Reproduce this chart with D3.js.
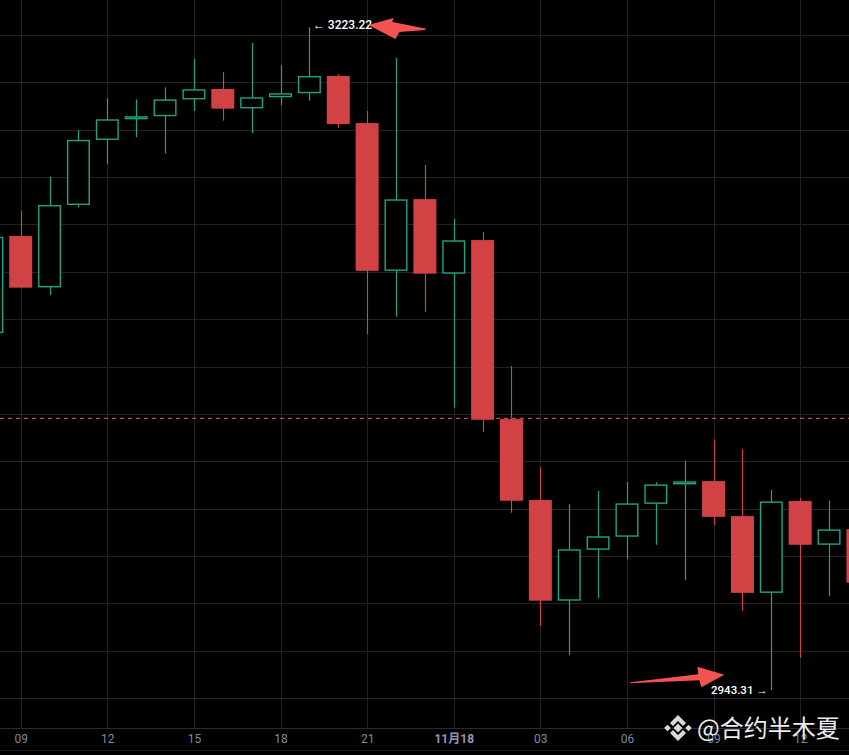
<!DOCTYPE html>
<html>
<head>
<meta charset="utf-8">
<script src="https://cdn.jsdelivr.net/npm/d3@7/dist/d3.min.js"></script>
<style>
  html, body { margin: 0; padding: 0; background: #000; }
  svg { display: block; }
</style>
</head>
<body>
<svg id="chart" width="849" height="755"></svg>
<script>
// ---- data ----
const times = [
  "2024-11-17 08:00","2024-11-17 09:00","2024-11-17 10:00","2024-11-17 11:00","2024-11-17 12:00",
  "2024-11-17 13:00","2024-11-17 14:00","2024-11-17 15:00","2024-11-17 16:00","2024-11-17 17:00",
  "2024-11-17 18:00","2024-11-17 19:00","2024-11-17 20:00","2024-11-17 21:00","2024-11-17 22:00",
  "2024-11-17 23:00","2024-11-18 00:00","2024-11-18 01:00","2024-11-18 02:00","2024-11-18 03:00",
  "2024-11-18 04:00","2024-11-18 05:00","2024-11-18 06:00","2024-11-18 07:00","2024-11-18 08:00",
  "2024-11-18 09:00","2024-11-18 10:00","2024-11-18 11:00","2024-11-18 12:00","2024-11-18 13:00",
  "2024-11-18 14:00"
];
const open  = [3094.1,3135.1,3113.4,3148.2,3175.7,3184.4,3185.7,3192.8,3197.2,3189.0,3193.7,3195.4,3202.7,3182.8,3120.4,3150.7,3119.2,3133.4,3057.8,3023.6,2981.1,3002.6,3008.1,3022.0,3030.2,3031.6,3016.8,2984.4,3023.2,3004.7,3011.3];
const high  = [3138.0,3145.7,3160.2,3179.9,3193.3,3192.8,3197.9,3209.9,3204.4,3216.6,3207.2,3223.22,3203.5,3187.9,3210.3,3165.1,3142.3,3136.7,3080.2,3037.5,3021.8,3027.4,3031.2,3031.1,3040.2,3049.2,3045.1,3027.8,3024.4,3023.3,3015.0];
const low   = [3088.0,3113.0,3110.2,3147.2,3165.6,3176.8,3170.0,3187.9,3183.8,3178.5,3190.3,3192.3,3180.8,3093.7,3101.0,3103.1,3062.6,3052.4,3018.2,2970.4,2958.1,2982.2,2998.7,3004.7,2989.8,3013.0,2976.8,2943.31,2957.0,2983.1,2985.0];
const close = [3134.8,3113.3,3148.2,3175.7,3184.4,3185.7,3192.8,3197.1,3188.9,3193.7,3195.4,3202.7,3182.4,3120.4,3150.6,3119.2,3133.3,3057.5,3023.3,2981.1,3002.8,3008.3,3022.2,3030.2,3031.5,3016.5,2984.4,3023.0,3004.7,3011.2,2988.7];
const gridPrices = [2940,2960,2980,3000,3020,3040,3060,3080,3100,3120,3140,3160,3180,3200,3220];
const markPrice = 3058.1;
const highLabel = "← 3223.22";
const lowLabel = "2943.31 →";
const watermark = "@合约半木夏";

// ---- setup ----
const W = 849, H = 755, plotBottom = 728;
const GREEN = "#1fa585", RED = "#d24244", GRID = "#232327", ARROW = "#f45352";
const parse = d3.timeParse("%Y-%m-%d %H:%M");
const data = times.map((t, i) => ({ t: parse(t), o: open[i], h: high[i], l: low[i], c: close[i] }));

const x = d3.scaleTime()
  .domain([parse("2024-11-17 09:00"), parse("2024-11-18 12:00")])
  .range([20.7, 20.7 + 27 * 28.87]);
const y = d3.scaleLinear().domain([2940, 3220]).range([698, 35]);

const svg = d3.select("#chart");
svg.append("rect").attr("width", W).attr("height", H).attr("fill", "#000");

svg.append("defs").append("clipPath").attr("id", "plotclip")
  .append("rect").attr("x", 0).attr("y", 0).attr("width", W).attr("height", plotBottom);

// grid
const tickTimes = x.ticks(d3.timeHour.every(3));
const grid = svg.append("g");
grid.selectAll("line.h").data(gridPrices).join("line")
  .attr("x1", 0).attr("x2", W)
  .attr("y1", d => Math.round(y(d)) + 0.5).attr("y2", d => Math.round(y(d)) + 0.5)
  .attr("stroke", GRID).attr("stroke-width", 1);
grid.selectAll("line.v").data(tickTimes).join("line")
  .attr("x1", d => Math.round(x(d)) + 0.5).attr("x2", d => Math.round(x(d)) + 0.5)
  .attr("y1", 0).attr("y2", plotBottom)
  .attr("stroke", GRID).attr("stroke-width", 1);

// current price dashed line
svg.append("line")
  .attr("x1", 0).attr("x2", W)
  .attr("y1", y(markPrice)).attr("y2", y(markPrice))
  .attr("stroke", RED).attr("stroke-width", 1.2).attr("stroke-dasharray", "4,4");

// candles
const bodyW = 23;
const cg = svg.append("g").attr("clip-path", "url(#plotclip)");
const candles = cg.selectAll("g.c").data(data).join("g");
candles.append("line")
  .attr("x1", d => Math.round(x(d.t)) + 0.5).attr("x2", d => Math.round(x(d.t)) + 0.5)
  .attr("y1", d => y(d.h)).attr("y2", d => y(d.l))
  .attr("stroke", d => d.c >= d.o ? GREEN : RED).attr("stroke-width", 1.2);
candles.append("rect")
  .attr("x", d => d.c >= d.o ? x(d.t) - bodyW / 2 + 0.7 : x(d.t) - bodyW / 2)
  .attr("width", d => d.c >= d.o ? bodyW - 1.4 : bodyW)
  .attr("y", d => d.c >= d.o ? y(Math.max(d.o, d.c)) + 0.7 : y(Math.max(d.o, d.c)))
  .attr("height", d => d.c >= d.o ? Math.max(1, Math.abs(y(d.o) - y(d.c)) - 1.4) : Math.max(1, Math.abs(y(d.o) - y(d.c))))
  .attr("fill", d => d.c >= d.o ? "#000" : RED)
  .attr("stroke", d => d.c >= d.o ? GREEN : "none")
  .attr("stroke-width", 1.4);

// x axis
svg.append("line").attr("x1", 0).attr("x2", W).attr("y1", plotBottom + 0.5).attr("y2", plotBottom + 0.5)
  .attr("stroke", "#2a2a2f");
svg.append("line").attr("x1", 0).attr("x2", W).attr("y1", 750.5).attr("y2", 750.5)
  .attr("stroke", "#1c1c20");
const fmtDay = d3.timeFormat("%-m月%d"), fmtHour = d3.timeFormat("%H");
const axis = d3.axisBottom(x).tickValues(tickTimes).tickSize(0).tickPadding(0)
  .tickFormat(d => d.getHours() === 0 ? fmtDay(d) : fmtHour(d));
const ax = svg.append("g").attr("transform", `translate(0,${plotBottom})`).call(axis);
ax.select(".domain").remove();
ax.selectAll("text")
  .attr("y", 15).attr("dy", 0)
  .attr("fill", d => d.getHours() === 0 ? "#8f9bb3" : "#7d8aa3")
  .attr("font-weight", d => d.getHours() === 0 ? "bold" : "normal")
  .attr("font-family", "Roboto, 'Noto Sans CJK SC', sans-serif")
  .attr("font-size", 12);

// annotations: high / low labels
const hiIdx = high.indexOf(d3.max(high)), loIdx = low.indexOf(d3.min(low));
const hx = x(data[hiIdx].t), hy = y(data[hiIdx].h);
const lx = x(data[loIdx].t), ly = y(data[loIdx].l);
svg.append("text").attr("x", hx + 3.5).attr("y", hy + 1.5)
  .attr("fill", "#fff").attr("font-family", "Roboto, sans-serif").attr("font-size", 12).attr("font-weight", 500)
  .text(highLabel);
svg.append("text").attr("x", lx - 3.5).attr("y", ly + 4).attr("text-anchor", "end")
  .attr("fill", "#fff").attr("font-family", "Roboto, sans-serif").attr("font-size", 11.5).attr("font-weight", 500)
  .text(lowLabel);

// red hand-drawn arrows
const topArrow = [[0,0],[25,-7],[24,-3],[57,3.5],[57,5],[31,7],[27,14]];
svg.append("path")
  .attr("transform", `translate(${hx + 59},${hy - 2.3})`)
  .attr("d", d3.line()(topArrow) + "Z").attr("fill", ARROW);
const botArrow = [[0,0],[68,-8],[67,-15.5],[94,-7.5],[71,5],[69,-2],[0,1.2]];
svg.append("path")
  .attr("transform", `translate(${lx - 141},${ly - 8})`)
  .attr("d", d3.line()(botArrow) + "Z").attr("fill", ARROW);

// watermark (Binance-style logo + text)
const wm = svg.append("g").attr("transform", "translate(678,728)");
const logoParts = [
  [[0,-4.5],[4.5,0],[0,4.5],[-4.5,0]],
  [[-10.5,-3.3],[-7.2,0],[-10.5,3.3],[-13.8,0]],
  [[10.5,-3.3],[13.8,0],[10.5,3.3],[7.2,0]],
  [[0,-13],[8,-5],[5,-2],[0,-7],[-5,-2],[-8,-5]],
  [[0,13],[8,5],[5,2],[0,7],[-5,2],[-8,5]]
];
wm.selectAll("path").data(logoParts).join("path")
  .attr("d", d => d3.line()(d) + "Z").attr("fill", "#d9d9d9");
svg.append("text").attr("x", 697).attr("y", 737)
  .attr("fill", "#ececec").attr("font-size", 24)
  .attr("font-family", "'Noto Sans CJK SC', 'Noto Sans', sans-serif")
  .text(watermark);
</script>
</body>
</html>
